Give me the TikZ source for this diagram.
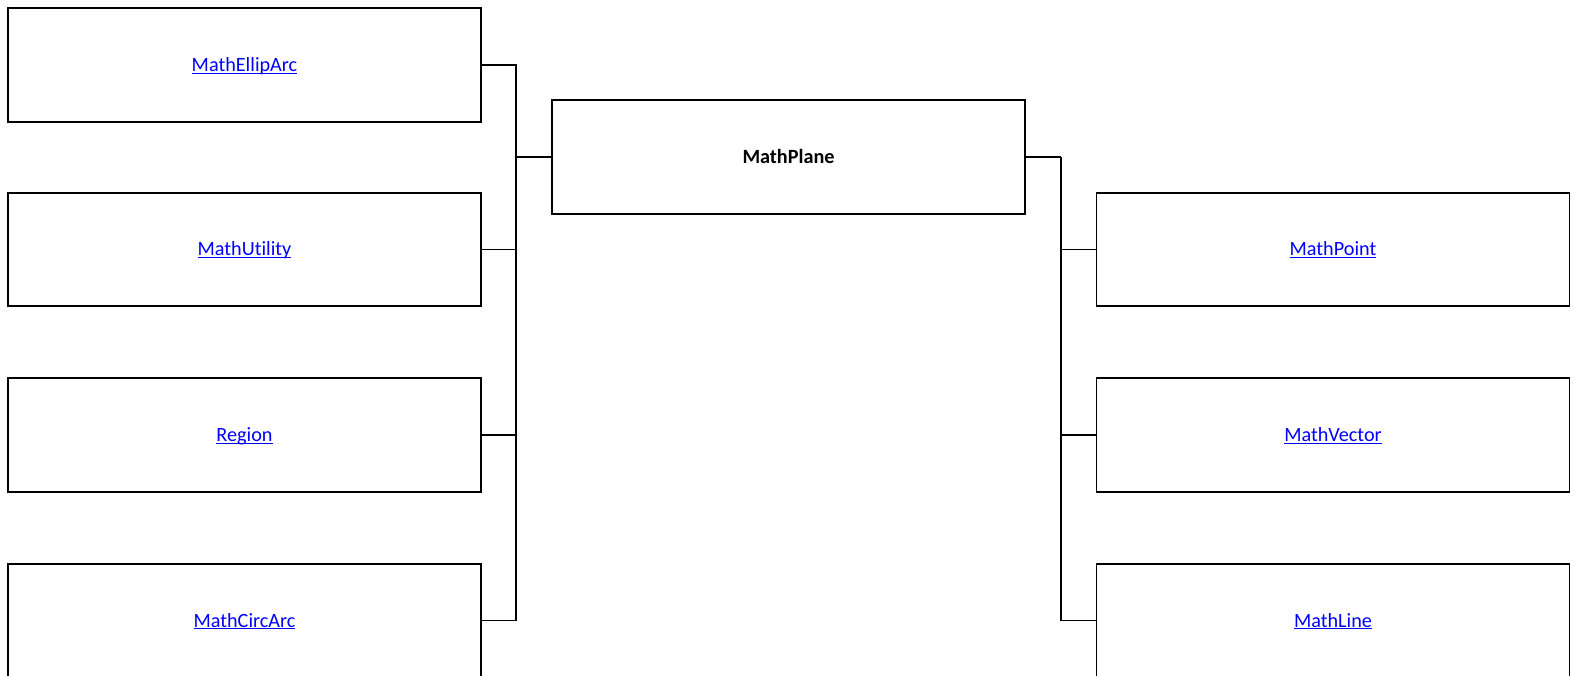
\documentclass[tikz,border=0pt]{standalone}
\usepackage{fontspec}
\setmainfont{Carlito}[Ligatures=NoCommon]
\usepackage{xcolor}
\usetikzlibrary{positioning,calc}
\definecolor{linkblue}{RGB}{0,0,255}
% underlined link text, rule just under the baseline
\newcommand{\classlink}[1]{\textcolor{linkblue}{\setbox0\hbox{#1}\rlap{\rule[-1.3pt]{\wd0}{0.65pt}}\box0}}

\begin{document}
\begin{tikzpicture}[
        font=\fontsize{11.5}{14}\selectfont,
        % boxes of the class diagram
        class_box/.style={draw=black, fill=white, line width=1.1pt, minimum width=9.46cm, minimum height=2.27cm, inner sep=0pt, text height=7.4pt, text depth=0pt, align=center},
        main_box/.style={class_box, font=\fontsize{11.5}{14}\selectfont\bfseries},
        conn/.style={draw=black, line width=1.1pt},
        main_conn/.style={draw=black, line width=1.7pt}
    ]

    \useasboundingbox (0,0) rectangle (31.5,-13.52);

    % ==========================================
    % 1. Central class
    % ==========================================
    \node[main_box] (plane) at (15.77, -3.14) {MathPlane};

    % ==========================================
    % 2. Left column (X = 4.89)
    % ==========================================
    \node[class_box] (ellip_arc) at (4.89, -1.30) {\classlink{MathEllipArc}};
    \node[class_box] (utility) at (4.89, -4.99) {\classlink{MathUtility}};
    \node[class_box] (region) at (4.89, -8.70) {\classlink{Region}};
    \node[class_box] (circ_arc) at (4.89, -12.41) {\classlink{MathCircArc}};

    % ==========================================
    % 3. Right column (X = 26.66)
    % ==========================================
    \node[class_box] (point) at (26.66, -4.99) {\classlink{MathPoint}};
    \node[class_box] (vector) at (26.66, -8.70) {\classlink{MathVector}};
    \node[class_box] (line) at (26.66, -12.41) {\classlink{MathLine}};

    % ==========================================
    % 4. Connectors (bus on each side)
    % ==========================================
    \coordinate (left_bus) at (10.32, -3.14);
    \coordinate (right_bus) at (21.22, -3.14);

    \draw[main_conn] (plane.west) -- (left_bus);
    \draw[main_conn] (plane.east) -- (right_bus);

    \foreach \n in {ellip_arc, utility, region, circ_arc}
        \draw[conn] (\n.east) -| (left_bus);
    \foreach \n in {point, vector, line}
        \draw[conn] (\n.west) -| (right_bus);

\end{tikzpicture}
\end{document}
